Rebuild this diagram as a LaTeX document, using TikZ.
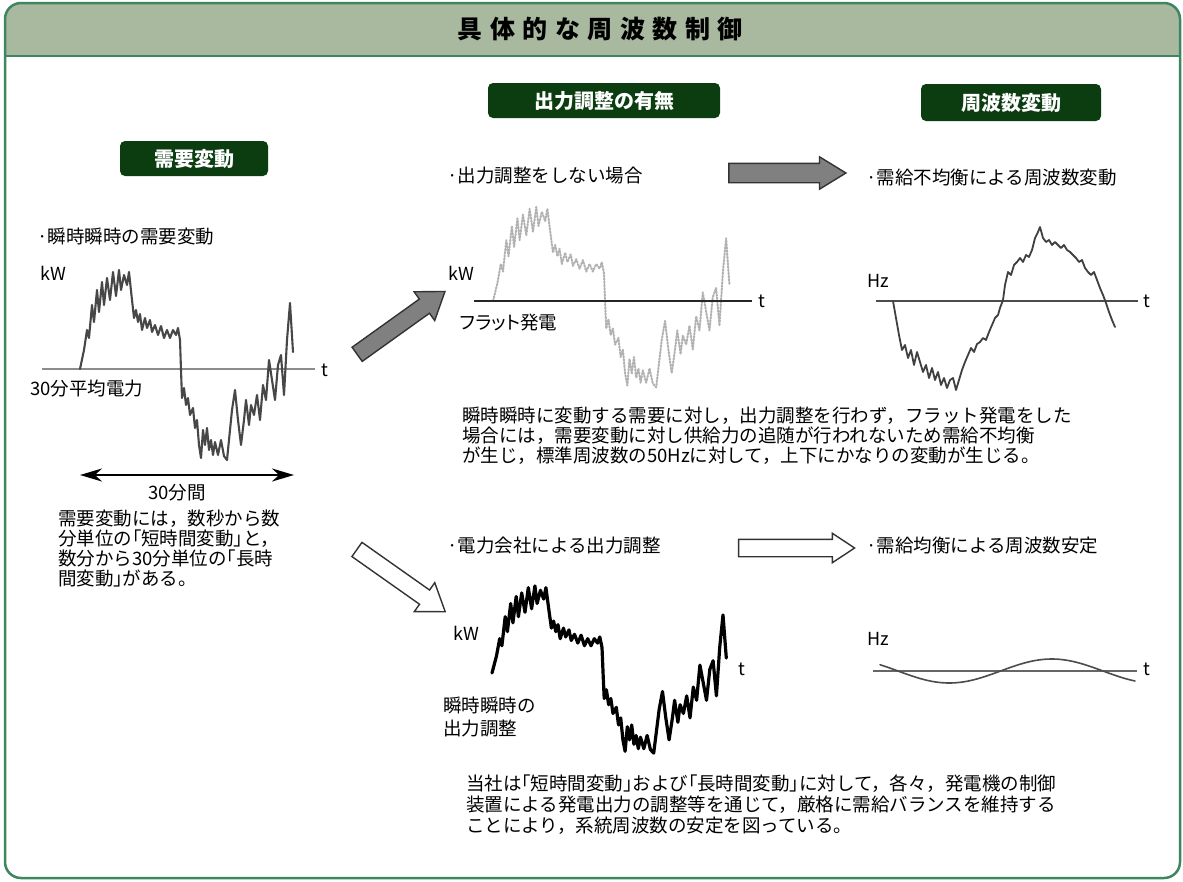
\documentclass[tikz,border=0pt]{standalone}
\usepackage{fontspec}
\setmainfont{Noto Sans CJK JP}
\newfontfamily\jpp[RawFeature={+palt}]{Noto Sans CJK JP}
\newfontfamily\titlefont[LetterSpace=30]{Noto Sans CJK JP}
\newcommand\lbk{{\jpp「}}
\newcommand\rbk{{\jpp」}}
\usetikzlibrary{arrows.meta,shapes.arrows}
\definecolor{sage}{HTML}{A8B9A0}
\definecolor{framegreen}{HTML}{3E8660}
\definecolor{hdrgreen}{HTML}{0B3D10}
\definecolor{arrowgray}{HTML}{808080}
\def\demandline{(0,0) -- (4,-19) -- (7,-39) -- (9,-31) -- (12,-64) -- (14,-47) -- (17,-79) -- (19,-57) -- (22,-87) -- (24,-64) -- (27,-91) -- (30,-69) -- (33,-97) -- (36,-73) -- (39,-99) -- (41,-79) -- (44,-94) -- (47,-84) -- (49,-97) -- (52,-69) -- (54,-51) -- (56,-59) -- (58,-47) -- (60,-55) -- (62,-39) -- (65,-51) -- (67,-41) -- (70,-49) -- (72,-37) -- (75,-44) -- (78,-34) -- (81,-43) -- (84,-31) -- (87,-39) -- (90,-31) -- (93,-39) -- (96,-34) -- (98,-41) -- (100,-29) -- (101,1) -- (102,29) -- (104,19) -- (106,36) -- (108,29) -- (110,46) -- (113,39) -- (115,59) -- (117,51) -- (119,76) -- (121,89) -- (123,61) -- (125,76) -- (127,59) -- (129,81) -- (131,71) -- (133,86) -- (135,73) -- (138,86) -- (141,71) -- (144,87) -- (147,91) -- (149,71) -- (152,41) -- (155,21) -- (158,51) -- (161,76) -- (164,51) -- (166,31) -- (169,56) -- (171,36) -- (174,46) -- (177,26) -- (180,51) -- (183,16) -- (186,31) -- (189,-9) -- (192,11) -- (195,31) -- (198,-4) -- (201,-14) -- (204,26) -- (207,-29) -- (210,-66) -- (213,-17)}
\tikzset{
  txt/.style={inner sep=0, anchor=base west, font=\fontsize{18.5}{22}\selectfont},
  lbl/.style={inner sep=0, anchor=base west, font=\fontsize{18}{20}\selectfont},
  hdr/.style={fill=hdrgreen, rounded corners=5, text=white, inner sep=0,
              font=\bfseries\fontsize{20}{22}\selectfont},
  fatarrow/.style={single arrow, draw=black!80, line width=1.4, inner xsep=0,
              minimum height=#1, single arrow head indent=0},
  grayarrow/.style={fatarrow=#1, fill=arrowgray},
  whitearrow/.style={fatarrow=#1, fill=white},
  axisline/.style={line width=1.6},
  curve/.style={line join=round, line cap=round},
}
\begin{document}
\begin{tikzpicture}[x=1pt,y=-1pt]
\useasboundingbox (0,0) rectangle (1183,881);
\fill[white] (0,0) rectangle (1183,881);
% frame and title band
\begin{scope}
  \clip (0,0) rectangle (1183,56);
  \fill[sage, rounded corners=16] (5,3) rectangle (1180,878);
\end{scope}
\draw[framegreen, line width=2] (5,56) -- (1180,56);
\draw[framegreen, line width=2.5, rounded corners=16] (5,3) rectangle (1180,878);
\node[inner sep=0, font=\titlefont\bfseries\fontsize{25}{27}\selectfont] (title) at (600,29) {具体的な周波数制御};

% section headers
\node[hdr, minimum width=148, minimum height=35] (h1) at (194,158.5) {需要変動};
\node[hdr, minimum width=232, minimum height=35] (h2) at (604,100.5) {出力調整の有無};
\node[hdr, minimum width=180, minimum height=37] (h3) at (1011,102.5) {周波数変動};

% ---------- left: demand fluctuation ----------
\node[txt] (l1) at (37,243) {·瞬時瞬時の需要変動};
\node[lbl] (kw1) at (40,280) {kW};
\coordinate (ax1a) at (42,369);
\coordinate (ax1b) at (315,369);
\draw[axisline, black!45] (ax1a) -- (ax1b);
\node[lbl] (t1) at (321,376) {t};
\node[txt] (avg) at (30,395) {30分平均電力};
\begin{scope}[shift={(80,369)}]
  \draw[curve, black!72, line width=2.1] \demandline;
\end{scope}
\coordinate (dl) at (80,475);
\coordinate (dr) at (294,475);
\draw[line width=2.6, {Stealth[length=22,width=13]}-{Stealth[length=22,width=13]}] (dl) -- (dr);
\node[txt] (m30) at (148,499) {30分間};
\node[txt] (lp1) at (58,525) {需要変動には，数秒から数};
\node[txt] (lp2) at (58,545) {分単位の\lbk 短時間変動\rbk と，};
\node[txt] (lp3) at (58,565) {数分から30分単位の\lbk 長時};
\node[txt] (lp4) at (58,585) {間変動\rbk がある。};

% ---------- block arrows ----------
\node[grayarrow=108, inner ysep=8, single arrow head extend=9, single arrow tip angle=70, rotate=35.6] (a1) at (396,326.5) {};
\node[whitearrow=108, inner ysep=8, single arrow head extend=9, single arrow tip angle=70, rotate=-35.2] (a2) at (396,577) {};
\node[grayarrow=117, inner ysep=9, single arrow head extend=6.5, single arrow tip angle=63] (a3) at (779.5,173) {};
\node[whitearrow=116, inner ysep=8, single arrow head extend=6, single arrow tip angle=67] (a4) at (790,548) {};

% ---------- middle top: flat generation ----------
\node[txt] (c1) at (447,182) {·出力調整をしない場合};
\node[lbl] (kw2) at (448,280) {kW};
\begin{scope}[shift={(493,301)}, xscale=1.11, yscale=0.95]
  \draw[curve, black!30, line width=2, dash pattern=on 1.6pt off 1.6pt] \demandline;
\end{scope}
\coordinate (ax2a) at (474,301);
\coordinate (ax2b) at (752,301);
\draw[line width=2.6, black!85] (ax2a) -- (ax2b);
\node[lbl] (t2) at (758,307) {t};
\node[txt, font=\jpp\fontsize{18.5}{22}\selectfont] (flat) at (460,329) {フラット発電};
\node[txt] (mp1) at (462,422) {瞬時瞬時に変動する需要に対し，出力調整を行わず，フラット発電をした};
\node[txt] (mp2) at (462,442) {場合には，需要変動に対し供給力の追随が行われないため需給不均衡};
\node[txt] (mp3) at (462,462) {が生じ，標準周波数の50Hzに対して，上下にかなりの変動が生じる。};

% ---------- right top: frequency fluctuation ----------
\node[txt] (r1) at (866,184) {·需給不均衡による周波数変動};
\node[lbl] (hz1) at (867,287) {Hz};
\coordinate (ax3a) at (876,301);
\coordinate (ax3b) at (1138,301);
\draw[axisline, black!70] (ax3a) -- (ax3b);
\node[lbl] (t3) at (1143,307) {t};
\draw[curve, black!75, line width=1.8] (893,301) -- (896,318) -- (899,335) -- (902,350) -- (905,345) -- (908,358) -- (911,350) -- (914,365) -- (917,352) -- (920,362) -- (923,372) -- (926,365) -- (929,378) -- (932,368) -- (935,380) -- (938,372) -- (941,385) -- (944,378) -- (947,388) -- (950,380) -- (953,378) -- (956,390) -- (959,380) -- (962,370) -- (965,362) -- (968,355) -- (971,348) -- (974,352) -- (977,344) -- (980,342) -- (983,338) -- (986,340) -- (989,332) -- (992,325) -- (995,318) -- (998,315) -- (1000,308) -- (1003,300) -- (1005,285) -- (1008,272) -- (1011,275) -- (1014,265) -- (1017,262) -- (1020,258) -- (1023,262) -- (1026,255) -- (1029,257) -- (1032,250) -- (1035,238) -- (1038,232) -- (1040,227) -- (1043,238) -- (1046,242) -- (1049,240) -- (1052,245) -- (1055,242) -- (1058,245) -- (1061,248) -- (1064,245) -- (1067,250) -- (1070,252) -- (1073,255) -- (1076,258) -- (1079,262) -- (1082,260) -- (1085,268) -- (1088,272) -- (1091,275) -- (1094,272) -- (1097,280) -- (1100,288) -- (1103,295) -- (1106,303) -- (1109,312) -- (1112,320) -- (1115,327);

% ---------- middle bottom: output adjustment ----------
\node[txt] (c2) at (447,552) {·電力会社による出力調整};
\node[lbl] (kw3) at (453,640) {kW};
\begin{scope}[shift={(492,673)}, xscale=1.1, yscale=0.88]
  \draw[curve, black, line width=3.2] \demandline;
\end{scope}
\node[lbl] (t4) at (738,675) {t};
\node[txt] (ad1) at (443,712) {瞬時瞬時の};
\node[txt] (ad2) at (443,735) {出力調整};
\node[txt] (bp1) at (466,790) {当社は\lbk 短時間変動\rbk および\lbk 長時間変動\rbk に対して，各々，発電機の制御};
\node[txt] (bp2) at (466,811) {装置による発電出力の調整等を通じて，厳格に需給バランスを維持する};
\node[txt] (bp3) at (466,832) {ことにより，系統周波数の安定を図っている。};

% ---------- right bottom: stable frequency ----------
\node[txt] (r2) at (866,552) {·需給均衡による周波数安定};
\node[lbl] (hz2) at (867,645) {Hz};
\coordinate (ax4a) at (873,671);
\coordinate (ax4b) at (1137,671);
\draw[axisline, black!60] (ax4a) -- (ax4b);
\node[lbl] (t5) at (1143,675) {t};
\draw[curve, black!70, line width=1.6] plot[domain=880:1135, samples=80] (\x, {671+12*sin(1.7561*(\x-898))});
\end{tikzpicture}
\end{document}
